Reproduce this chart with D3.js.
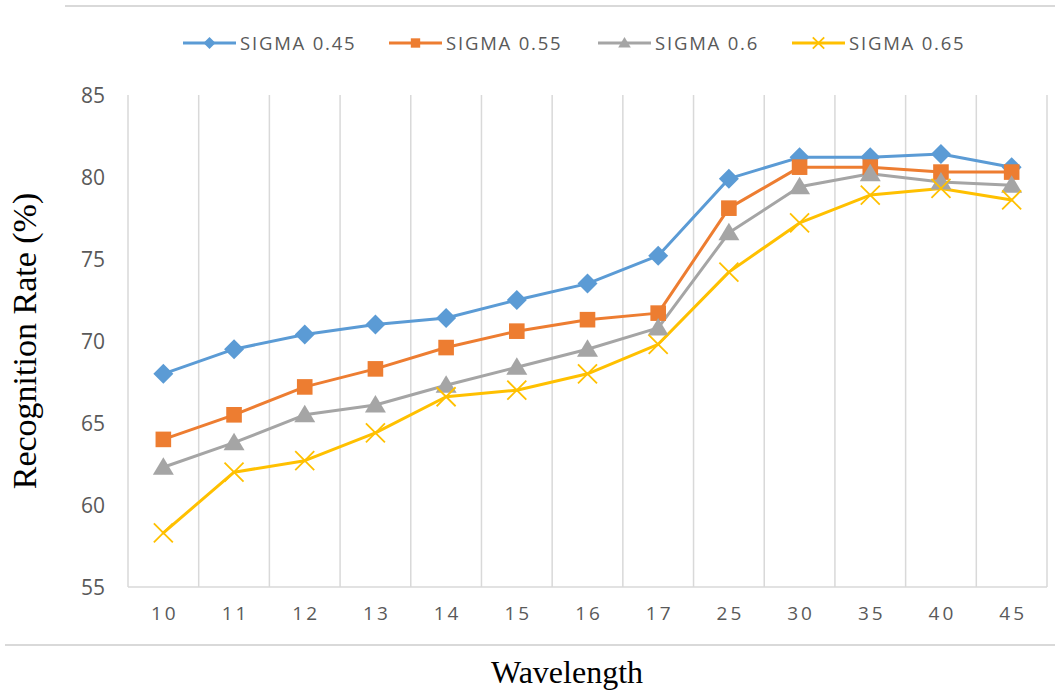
<!DOCTYPE html>
<html>
<head>
<meta charset="utf-8">
<script src="https://cdn.jsdelivr.net/npm/d3@7"></script>
<style>
  html, body { margin: 0; padding: 0; background: #fff; }
  svg { display: block; }
</style>
</head>
<body>
<svg id="chart" width="1055" height="691"></svg>
<script>
// Wavelength categories and recognition rates (%) for each sigma value
const wavelengths = ["10", "11", "12", "13", "14", "15", "16", "17", "25", "30", "35", "40", "45"];
const sigma045 = [68.0, 69.5, 70.4, 71.0, 71.4, 72.5, 73.5, 75.2, 79.9, 81.2, 81.2, 81.4, 80.6];
const sigma055 = [64.0, 65.5, 67.2, 68.3, 69.6, 70.6, 71.3, 71.7, 78.1, 80.6, 80.6, 80.3, 80.3];
const sigma060 = [62.3, 63.8, 65.5, 66.1, 67.3, 68.4, 69.5, 70.8, 76.6, 79.4, 80.2, 79.7, 79.5];
const sigma065 = [58.3, 62.0, 62.7, 64.4, 66.6, 67.0, 68.0, 69.8, 74.2, 77.2, 78.9, 79.3, 78.6];
const seriesNames = ["SIGMA 0.45", "SIGMA 0.55", "SIGMA 0.6", "SIGMA 0.65"];
const yTicks = [55, 60, 65, 70, 75, 80, 85];

const series = [
  { name: seriesNames[0], values: sigma045, color: "#5B9BD5", marker: "diamond" },
  { name: seriesNames[1], values: sigma055, color: "#ED7D31", marker: "square" },
  { name: seriesNames[2], values: sigma060, color: "#A5A5A5", marker: "triangle" },
  { name: seriesNames[3], values: sigma065, color: "#FFC000", marker: "cross" }
];

const svg = d3.select("#chart");
const plot = { left: 128, right: 1047, top: 95, bottom: 587 };
const gridColor = "#d9d9d9";
const labelColor = "#595959";

const x = d3.scaleBand().domain(wavelengths).range([plot.left, plot.right]).padding(0);
const y = d3.scaleLinear().domain([55, 85]).range([plot.bottom, plot.top]);
const cx = d => x(d) + x.bandwidth() / 2;

// Frame lines above the legend and below the axis label area
svg.append("line").attr("x1", 65).attr("x2", 1055).attr("y1", 6).attr("y2", 6)
  .attr("stroke", gridColor).attr("stroke-width", 2);
svg.append("line").attr("x1", 5).attr("x2", 1055).attr("y1", 645).attr("y2", 645)
  .attr("stroke", gridColor).attr("stroke-width", 2);

// Vertical gridlines at category boundaries
const bounds = wavelengths.map(d => x(d)).concat([plot.right]);
svg.append("g").selectAll("line").data(bounds).join("line")
  .attr("x1", d => d).attr("x2", d => d)
  .attr("y1", plot.top).attr("y2", plot.bottom)
  .attr("stroke", gridColor).attr("stroke-width", 1.5);

// Category axis line
svg.append("line").attr("x1", plot.left).attr("x2", plot.right)
  .attr("y1", plot.bottom).attr("y2", plot.bottom)
  .attr("stroke", gridColor).attr("stroke-width", 1.5);

// Y tick labels
svg.append("g").selectAll("text").data(yTicks).join("text")
  .attr("x", 105).attr("y", d => y(d))
  .attr("dy", "0.36em")
  .attr("text-anchor", "end")
  .attr("font-family", "'Open Sans', sans-serif")
  .attr("font-size", 21)
  .attr("fill", labelColor)
  .text(d => d);

// X tick labels
svg.append("g").selectAll("text").data(wavelengths).join("text")
  .attr("x", d => cx(d) + 1.5).attr("y", 620)
  .attr("text-anchor", "middle")
  .attr("font-family", "'Open Sans', sans-serif")
  .attr("font-size", 19)
  .attr("letter-spacing", 3)
  .attr("fill", labelColor)
  .text(d => d);

// Axis titles
svg.append("text")
  .attr("transform", `translate(36, ${(plot.top + plot.bottom) / 2}) rotate(-90)`)
  .attr("text-anchor", "middle")
  .attr("font-family", "'Liberation Serif', 'Times New Roman', serif")
  .attr("font-size", 34)
  .attr("fill", "#000")
  .text("Recognition Rate (%)");

svg.append("text")
  .attr("x", 567).attr("y", 683)
  .attr("text-anchor", "middle")
  .attr("font-family", "'Liberation Serif', 'Times New Roman', serif")
  .attr("font-size", 32)
  .attr("fill", "#000")
  .text("Wavelength");

// Marker drawing
function drawMarker(g, type, color, s) {
  if (type === "diamond") {
    g.append("path").attr("d", `M0,${-s}L${s},0L0,${s}L${-s},0Z`).attr("fill", color);
  } else if (type === "square") {
    const h = s * 0.78;
    g.append("rect").attr("x", -h).attr("y", -h).attr("width", 2 * h).attr("height", 2 * h).attr("fill", color);
  } else if (type === "triangle") {
    g.append("path").attr("d", `M0,${-s}L${s * 1.05},${s * 0.75}L${-s * 1.05},${s * 0.75}Z`).attr("fill", color);
  } else if (type === "cross") {
    const h = s * 0.95;
    g.append("path").attr("d", `M${-h},${-h}L${h},${h}M${-h},${h}L${h},${-h}`)
      .attr("stroke", color).attr("stroke-width", 1.8).attr("fill", "none");
  }
}

const line = d3.line()
  .x((d, i) => cx(wavelengths[i]))
  .y(d => y(d));

// Series lines and markers
series.forEach(s => {
  svg.append("path")
    .attr("d", line(s.values))
    .attr("fill", "none")
    .attr("stroke", s.color)
    .attr("stroke-width", 3)
    .attr("stroke-linejoin", "round")
    .attr("stroke-linecap", "round");
});
series.forEach(s => {
  const g = svg.append("g");
  s.values.forEach((v, i) => {
    const m = g.append("g").attr("transform", `translate(${cx(wavelengths[i])},${y(v)})`);
    drawMarker(m, s.marker, s.color, 10);
  });
});

// Legend
const legend = svg.append("g");
const legendX = [183, 389, 598, 792];
series.forEach((s, i) => {
  const g = legend.append("g").attr("transform", `translate(${legendX[i]},43)`);
  g.append("line").attr("x1", 0).attr("x2", 53).attr("y1", 0).attr("y2", 0)
    .attr("stroke", s.color).attr("stroke-width", 3);
  const m = g.append("g").attr("transform", "translate(26.5,0)");
  drawMarker(m, s.marker, s.color, 6);
  g.append("text")
    .attr("x", 57).attr("y", 0).attr("dy", "0.36em")
    .attr("font-family", "'Open Sans', sans-serif")
    .attr("font-size", 18.5)
    .attr("letter-spacing", 1.8)
    .attr("fill", labelColor)
    .text(s.name);
});
</script>
</body>
</html>
